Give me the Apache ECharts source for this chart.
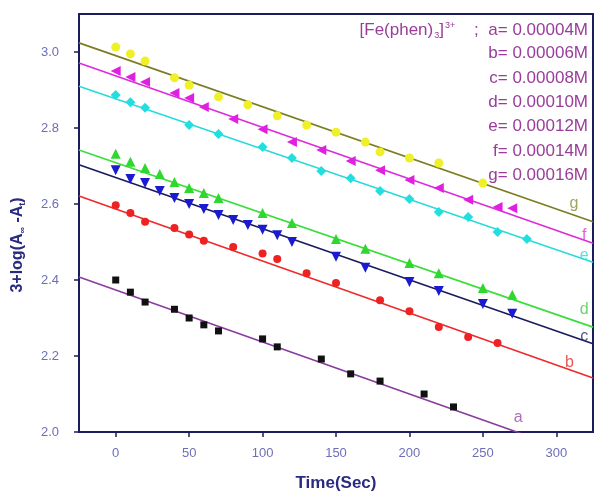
<!DOCTYPE html>
<html>
<head>
<meta charset="utf-8">
<script src="https://cdn.jsdelivr.net/npm/echarts@6/dist/echarts.min.js"></script>
<style>
  html, body { margin: 0; padding: 0; background: #fff; }
  #chart { width: 595px; height: 492px; }
</style>
</head>
<body>
<div id="chart"></div>
<script>
// measured points (Time in sec, 3+log(A-At))
const xA = [0, 10, 20, 40, 50, 60, 70, 100, 110, 140, 160, 180, 210, 230];
const yA = [2.40, 2.368, 2.342, 2.323, 2.30, 2.282, 2.266, 2.245, 2.224, 2.192, 2.153, 2.134, 2.10, 2.066];
const xB = [0, 10, 20, 40, 50, 60, 80, 100, 110, 130, 150, 180, 200, 220, 240, 260];
const yB = [2.597, 2.576, 2.553, 2.537, 2.52, 2.503, 2.487, 2.47, 2.455, 2.418, 2.392, 2.347, 2.318, 2.276, 2.25, 2.234];
const xC = [0, 10, 20, 30, 40, 50, 60, 70, 80, 90, 100, 110, 120, 150, 170, 200, 220, 250, 270];
const yC = [2.689, 2.666, 2.655, 2.634, 2.616, 2.60, 2.587, 2.571, 2.558, 2.545, 2.532, 2.518, 2.50, 2.461, 2.432, 2.395, 2.371, 2.337, 2.311];
const xD = [0, 10, 20, 30, 40, 50, 60, 70, 100, 120, 150, 170, 200, 220, 250, 270];
const yD = [2.732, 2.711, 2.695, 2.679, 2.658, 2.642, 2.629, 2.616, 2.576, 2.55, 2.508, 2.482, 2.445, 2.418, 2.379, 2.361];
const xE = [0, 10, 20, 50, 70, 100, 120, 140, 160, 180, 200, 220, 240, 260, 280];
const yE = [2.887, 2.868, 2.853, 2.808, 2.784, 2.75, 2.721, 2.687, 2.668, 2.634, 2.613, 2.579, 2.566, 2.526, 2.508];
const xF = [0, 10, 20, 40, 50, 60, 80, 100, 120, 140, 160, 180, 200, 220, 240, 260, 270];
const yF = [2.95, 2.934, 2.921, 2.892, 2.879, 2.855, 2.824, 2.797, 2.763, 2.742, 2.713, 2.689, 2.663, 2.642, 2.611, 2.592, 2.589];
const xG = [0, 10, 20, 40, 50, 70, 90, 110, 130, 150, 170, 180, 200, 220, 250];
const yG = [3.013, 2.995, 2.976, 2.932, 2.913, 2.882, 2.861, 2.832, 2.808, 2.789, 2.763, 2.737, 2.721, 2.708, 2.655];

// linear fit lines, value at x = -25 and x = 325
const fitX = [-25, 325];
const fitA = [2.408, 1.929];
const fitB = [2.621, 2.142];
const fitC = [2.703, 2.232];
const fitD = [2.742, 2.276];
const fitE = [2.910, 2.447];
const fitF = [2.971, 2.497];
const fitG = [3.024, 2.553];

// curve letters near right end of each line
const curveNames = ['a', 'b', 'c', 'd', 'e', 'f', 'g'];
const curveLabelX = [274, 309, 319, 319, 319, 319, 312];
const curveLabelY = [2.037, 2.182, 2.25, 2.321, 2.463, 2.518, 2.602];

const concLabels = ['a= 0.00004M', 'b= 0.00006M', 'c= 0.00008M', 'd= 0.00010M',
  'e= 0.00012M', 'f= 0.00014M', 'g= 0.00016M'];

const xTicks = [0, 50, 100, 150, 200, 250, 300];
const yTicks = [2.0, 2.2, 2.4, 2.6, 2.8, 3.0];

const FONT = 'Liberation Sans, Arial, sans-serif';
const AXIS = '#1c1c5c';

const sets = [
  { x: xA, y: yA, fit: fitA, pt: '#111111', line: '#8a3c9e', lab: '#9a4aae', symbol: 'rect', size: 7, rot: 0 },
  { x: xB, y: yB, fit: fitB, pt: '#ee2222', line: '#ee2a2a', lab: '#e03030', symbol: 'circle', size: 8, rot: 0 },
  { x: xC, y: yC, fit: fitC, pt: '#1a1ad0', line: '#1a1a5e', lab: '#2a2a70', symbol: 'triangle', size: 10, rot: 180 },
  { x: xD, y: yD, fit: fitD, pt: '#2ed82e', line: '#3ade3a', lab: '#44cc44', symbol: 'triangle', size: 10, rot: 0 },
  { x: xE, y: yE, fit: fitE, pt: '#22dede', line: '#2adada', lab: '#33d6d6', symbol: 'diamond', size: 10, rot: 0 },
  { x: xF, y: yF, fit: fitF, pt: '#e020e0', line: '#dd2add', lab: '#d838d8', symbol: 'triangle', size: 10, rot: 90 },
  { x: xG, y: yG, fit: fitG, pt: '#f0f028', line: '#7c7c22', lab: '#8c8c34', symbol: 'circle', size: 9, rot: 0 }
];

const series = [];
sets.forEach(function (s, i) {
  series.push({
    type: 'line',
    data: fitX.map(function (x, k) { return [x, s.fit[k]]; }),
    showSymbol: false,
    lineStyle: { color: s.line, width: 1.6 },
    clip: true,
    z: 2
  });
  series.push({
    type: 'scatter',
    data: s.x.map(function (x, k) { return [x, s.y[k]]; }),
    symbol: s.symbol,
    symbolSize: s.size,
    symbolRotate: s.rot,
    itemStyle: { color: s.pt, opacity: 1 },
    z: 3
  });
  series.push({
    type: 'scatter',
    data: [[curveLabelX[i], curveLabelY[i]]],
    symbolSize: 0,
    label: {
      show: true,
      position: 'inside',
      formatter: curveNames[i],
      color: s.lab,
      fontFamily: FONT,
      fontSize: 16
    },
    z: 4
  });
});

const chart = echarts.init(document.getElementById('chart'));

const legendTexts = concLabels.map(function (t, i) {
  return {
    type: 'text',
    right: 7,
    top: 21 + i * 24.3,
    style: {
      text: i === 0 ? '[Fe(phen){sub|3}]{sup|3+}    ;  ' + t : t,
      rich: {
        sub: { fontSize: 9, fill: '#9a3c9a', fontFamily: FONT, padding: [10, 0, 0, 1] },
        sup: { fontSize: 9, fill: '#9a3c9a', fontFamily: FONT, padding: [0, 0, 10, 1] }
      },
      fill: '#9a3c9a',
      font: '17px ' + FONT
    },
    z: 10
  };
});

chart.setOption({
  backgroundColor: '#ffffff',
  animation: false,
  grid: {
    left: 79, right: 2, top: 14, bottom: 60,
    outerBoundsMode: 'none',
    containLabel: false,
    show: true, borderColor: AXIS, borderWidth: 2, backgroundColor: 'transparent'
  },
  xAxis: {
    type: 'value',
    min: -25, max: 325,
    name: 'Time(Sec)',
    nameLocation: 'middle',
    nameGap: 43,
    nameTextStyle: { color: '#2a2a80', fontWeight: 'bold', fontSize: 17, fontFamily: FONT },
    axisLine: { show: true, onZero: false, lineStyle: { color: AXIS, width: 2 } },
    axisTick: { show: true, length: 5, customValues: xTicks, lineStyle: { color: AXIS, width: 1.5 } },
    axisLabel: { customValues: xTicks, color: '#6e6eb8', fontSize: 13, fontFamily: FONT, margin: 15 },
    splitLine: { show: false }
  },
  yAxis: {
    type: 'value',
    min: 2.0, max: 3.1,
    name: '3+log(A{sub|∞} -A{sub|t})',
    nameLocation: 'middle',
    nameGap: 52,
    nameTextStyle: {
      color: '#2a2a80', fontWeight: 'bold', fontSize: 16, fontFamily: FONT,
      padding: [0, 44, 0, 0],
      rich: { sub: { fontSize: 9, color: '#2a2a80', fontWeight: 'bold', padding: [10, 0, 0, 0] } }
    },
    axisLine: { show: true, onZero: false, lineStyle: { color: AXIS, width: 2 } },
    axisTick: { show: true, length: 5, customValues: yTicks, lineStyle: { color: AXIS, width: 1.5 } },
    axisLabel: {
      customValues: yTicks, color: '#6e6eb8', fontSize: 13, fontFamily: FONT, margin: 20,
      formatter: function (v) { return v.toFixed(1); }
    },
    splitLine: { show: false }
  },
  graphic: legendTexts,
  series: series
});
</script>
</body>
</html>
